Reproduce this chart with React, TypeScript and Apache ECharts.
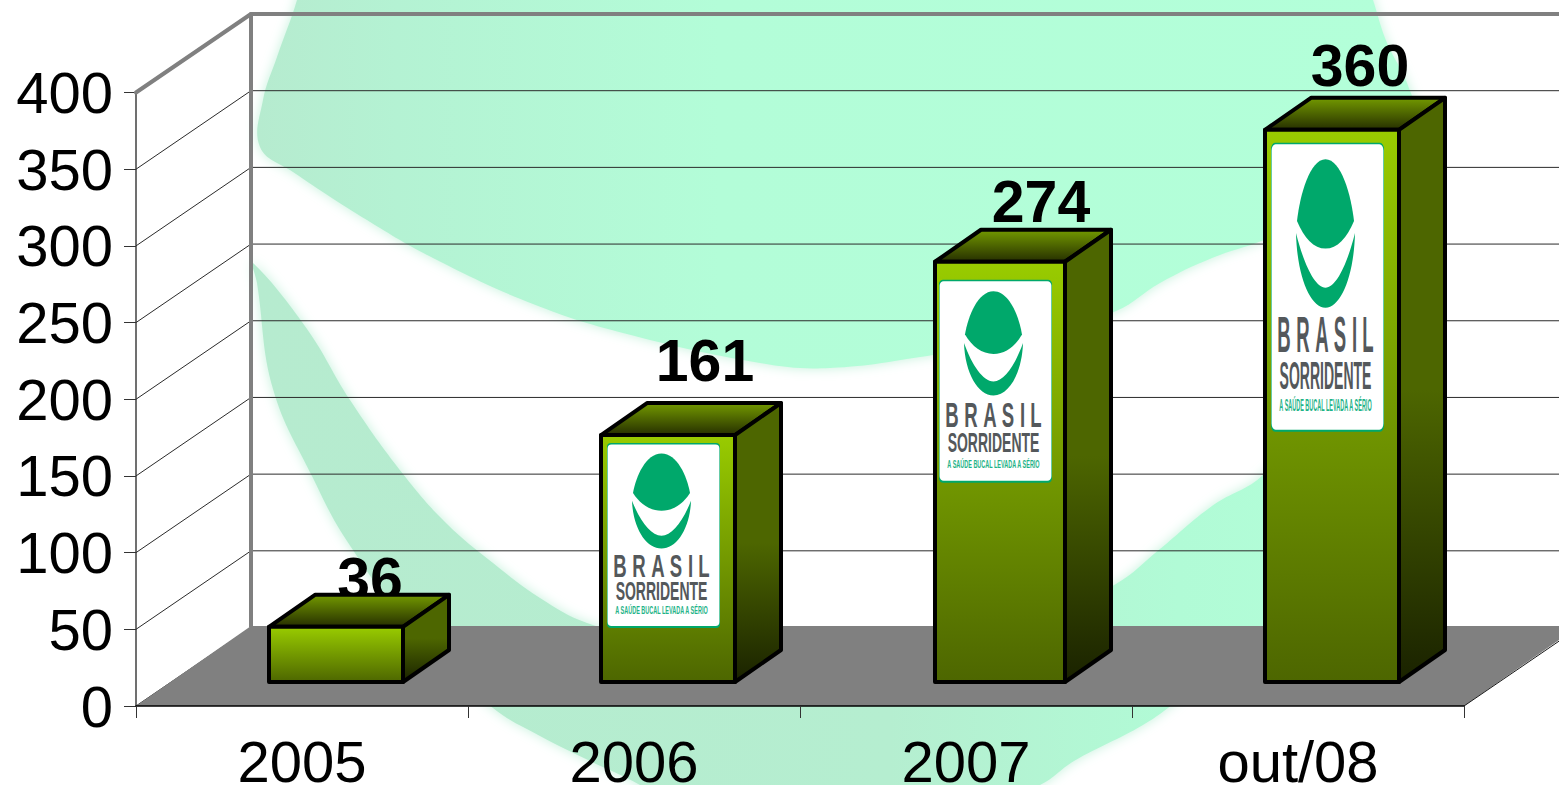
import React, { useEffect, useRef } from "react";
import * as echarts from "echarts";

const categories = ["2005", "2006", "2007", "out/08"];
const values = [36, 161, 274, 360];
const yTicks = [0, 50, 100, 150, 200, 250, 300, 350, 400];
const brasilLetters = ["B", "R", "A", "S", "I", "L"];

const W = 1559;
const H = 785;
const FONT = '"Liberation Sans", Arial, sans-serif';
const DEPTH_X = 115;
const DEPTH_Y = 78.5;
const BAR_SHIFT_X = 34;
const BAR_SHIFT_Y = 24;
const BAR_DEPTH_X = 46;
const BAR_DEPTH_Y = 32;
const barWidths = [134, 134, 130, 134];
const labelOffsets = [[34, -48], [37, -74], [41, -60], [28, -64]];
const logoFrames = [null, { dx: 6, dy: 8, h: 185 }, { dx: 4, dy: 18, h: 203 }, { dx: 6, dy: 13, h: 289 }];
const letterCentres = [13, 32, 51, 69, 83.5, 97];

const HEAD_PATH = "M54.5 10.5C70 10.5 80 33 83 50C76 61 66 67.7 54.5 67.7C43 67.7 33 61 26 50C29 33 39 10.5 54.5 10.5Z";
const SMILE_PATH = "M25 57.7C33 78 44 92.7 54.5 92.7C65 92.7 76 78 84 57.7C83 85 70 105.5 54.5 105.5C39 105.5 26 85 25 57.7Z";

const headOutline = [
  [306, -40], [1360, -40], [1373, 0], [1387, 43], [1407, 83], [1415, 120], [1390, 170], [1330, 210], [1264, 240],
  [1212, 258], [1160, 283], [1116, 311], [1030, 338], [933, 355], [830, 368], [760, 363], [623, 333], [533, 304],
  [433, 258], [367, 220], [293, 172], [260, 147], [263, 100], [277, 57], [297, 0],
];
const smileOutline = [
  [253, 263], [307, 329], [350, 400], [403, 474], [447, 524], [493, 563], [540, 598], [587, 623], [700, 655],
  [830, 665], [935, 640], [1040, 620], [1116, 584], [1160, 549], [1212, 506], [1264, 474], [1340, 380], [1405, 265],
  [1395, 400], [1300, 600], [1178, 700], [1143, 725], [1074, 761], [1040, 785], [1000, 795], [650, 795], [640, 785],
  [590, 761], [540, 736], [493, 708], [420, 640], [347, 541], [313, 478], [273, 389], [257, 283],
];

const vgrad = (stops: string[]) =>
  new echarts.graphic.LinearGradient(0, 0, 0, 1, stops.map((color, i) => ({ offset: i / (stops.length - 1), color })));

function logoChildren(frame: { h: number }) {
  const sy = frame.h / 185;
  const text = (t: string, x: number, y: number, size: number, sx: number, fill: string, weight = "bold") => ({
    type: "text",
    x,
    y,
    scaleX: sx,
    style: { text: t, x: 0, y: 0, fill, fontFamily: FONT, fontSize: size, fontWeight: weight, textAlign: "center", textVerticalAlign: "middle" },
  });
  return {
    type: "group",
    scaleY: sy,
    children: [
      { type: "rect", shape: { x: 0, y: 0, width: 113, height: 185, r: 4 }, style: { fill: "#00a86b" } },
      { type: "rect", shape: { x: 0.6, y: 1.4 / sy, width: 111.8, height: 185 - 3.4 / sy, r: 4 }, style: { fill: "#ffffff" } },
      { type: "path", shape: { pathData: HEAD_PATH }, style: { fill: "#00a86b" } },
      { type: "path", shape: { pathData: SMILE_PATH }, style: { fill: "#00a86b" } },
      ...brasilLetters.map((c, i) => text(c, letterCentres[i], 123, 32, 0.58, "#54585b")),
      text("SORRIDENTE", 54.5, 148.5, 25, 0.56, "#54585b"),
      text("A SAÚDE BUCAL LEVADA A SÉRIO", 54.5, 168, 10, 0.55, "#1fb388"),
    ],
  };
}

function renderFrame(params: any, api: any) {
  const v = api.value(1);
  const y = api.coord([0, v])[1];
  const x0 = params.coordSys.x;
  const x1 = x0 + params.coordSys.width + DEPTH_X;
  const top = v === yTicks[yTicks.length - 1];
  const style = top
    ? { stroke: "#808080", lineWidth: 4, lineCap: "round" }
    : { stroke: "#2b2b2b", lineWidth: 1 };
  return {
    type: "group",
    children: [
      { type: "line", shape: { x1: x0 + DEPTH_X, y1: y - DEPTH_Y, x2: x1, y2: y - DEPTH_Y }, style },
      { type: "line", shape: { x1: x0, y1: y, x2: x0 + DEPTH_X, y2: y - DEPTH_Y }, style },
    ],
  };
}

function renderWall(params: any, api: any) {
  const x = params.coordSys.x + DEPTH_X;
  const y0 = api.coord([0, 0])[1];
  const y1 = api.coord([0, 400])[1];
  return {
    type: "line",
    shape: { x1: x, y1: y1 - DEPTH_Y, x2: x, y2: y0 - DEPTH_Y },
    style: { stroke: "#808080", lineWidth: 4 },
  };
}

function renderFloor(params: any, api: any) {
  const x0 = params.coordSys.x;
  const x1 = x0 + params.coordSys.width;
  const y = api.coord([0, 0])[1];
  return {
    type: "group",
    children: [
      {
        type: "polygon",
        shape: { points: [[x0, y], [x0 + DEPTH_X, y - DEPTH_Y - 1.5], [x1 + DEPTH_X, y - DEPTH_Y - 1.5], [x1, y]] },
        style: { fill: "#808080" },
      },
      { type: "line", shape: { x1, y1: y, x2: x1 + DEPTH_X, y2: y - DEPTH_Y }, style: { stroke: "#1a1a1a", lineWidth: 1 } },
    ],
  };
}

function renderBar(params: any, api: any) {
  const i = params.dataIndex;
  const v = api.value(1);
  const cx = api.coord([i, 0])[0] + BAR_SHIFT_X;
  const bottom = api.coord([i, 0])[1] - BAR_SHIFT_Y;
  const top = api.coord([i, v])[1] - BAR_SHIFT_Y;
  const w = barWidths[i];
  const l = cx - w / 2;
  const r = cx + w / 2;
  const stroke = { stroke: "#000000", lineWidth: 4, lineJoin: "round" };
  const frame = logoFrames[i];
  const children: any[] = [
    {
      type: "text",
      style: {
        text: String(v),
        x: cx + labelOffsets[i][0],
        y: top + labelOffsets[i][1],
        fill: "#000000",
        fontFamily: FONT,
        fontWeight: "bold",
        fontSize: 59,
        textAlign: "center",
        textVerticalAlign: "middle",
      },
    },
    {
      type: "polygon",
      shape: { points: [[l, top], [l + BAR_DEPTH_X, top - BAR_DEPTH_Y], [r + BAR_DEPTH_X, top - BAR_DEPTH_Y], [r, top]] },
      style: { fill: vgrad(["#739900", "#262f00"]), ...stroke },
    },
    {
      type: "polygon",
      shape: { points: [[r, top], [r + BAR_DEPTH_X, top - BAR_DEPTH_Y], [r + BAR_DEPTH_X, bottom - BAR_DEPTH_Y], [r, bottom]] },
      style: { fill: vgrad(["#4d6600", "#4d6600", "#1a2200"]), ...stroke },
    },
    {
      type: "polygon",
      shape: { points: [[l, top], [r, top], [r, bottom], [l, bottom]] },
      style: { fill: vgrad(["#99cc00", "#4d6600"]), ...stroke },
    },
  ];
  if (frame) {
    children.push({ type: "group", x: l + frame.dx, y: top + frame.dy, children: [logoChildren(frame)] });
  }
  return { type: "group", children };
}

export default function App() {
  const ref = useRef<HTMLDivElement>(null);
  useEffect(() => {
    document.body.style.margin = "0";
    const chart = echarts.init(ref.current!, undefined, { renderer: "svg" });
    const xSeries = [0];
    chart.setOption({
      animation: false,
      backgroundColor: "#ffffff",
      textStyle: { fontFamily: FONT },
      grid: { left: 136, right: W - 1464, top: 92.5, bottom: H - 706, outerBoundsMode: "none", containLabel: false },
      graphic: [
        {
          type: "polygon",
          z: -2,
          shape: { points: headOutline, smooth: 0.4 },
          style: {
            fill: { type: "linear", x: 0, y: 0, x2: 1, y2: 0, colorStops: [{ offset: 0, color: "#b6ebcf" }, { offset: 0.12, color: "#b4f2d3" }, { offset: 0.4, color: "#b3fdd8" }, { offset: 1, color: "#b3ffd9" }] },
            shadowBlur: 12,
            shadowColor: "#c4f2dc",
          },
        },
        {
          type: "polygon",
          z: -2,
          shape: { points: smileOutline, smooth: 0.4 },
          style: {
            fill: { type: "linear", x: 0, y: 0, x2: 1, y2: 0, colorStops: [{ offset: 0, color: "#b6ebcf" }, { offset: 0.55, color: "#b5eed0" }, { offset: 0.8, color: "#b1fbd6" }, { offset: 1, color: "#b3ffd9" }] },
            shadowBlur: 12,
            shadowColor: "#c4f2dc",
          },
        },
      ],
      xAxis: {
        type: "category",
        data: categories,
        z: 10,
        axisLine: { lineStyle: { color: "#000000", width: 1.5 } },
        axisTick: { show: true, length: 12, lineStyle: { color: "#333333", width: 1 } },
        axisLabel: { interval: 0, color: "#000000", fontSize: 58, lineHeight: 46, fontFamily: FONT, margin: 32 },
      },
      yAxis: {
        type: "value",
        min: 0,
        max: 400,
        interval: 50,
        z: 1,
        splitLine: { show: false },
        axisLine: { show: true, lineStyle: { color: "#707070", width: 2 } },
        axisTick: { show: true, length: 12, lineStyle: { color: "#333333", width: 1 } },
        axisLabel: { color: "#000000", fontSize: 58, fontFamily: FONT, margin: 23 },
      },
      series: [
        { type: "custom", name: "frame", coordinateSystem: "cartesian2d", z: 2, clip: false, renderItem: renderFrame, encode: { x: 0, y: 1 }, data: yTicks.map((v) => [0, v]) },
        { type: "custom", name: "wall", coordinateSystem: "cartesian2d", z: 3, clip: false, renderItem: renderWall, encode: { x: 0, y: 1 }, data: xSeries.map((x) => [x, 0]) },
        { type: "custom", name: "floor", coordinateSystem: "cartesian2d", z: 4, clip: false, renderItem: renderFloor, encode: { x: 0, y: 1 }, data: xSeries.map((x) => [x, 0]) },
        { type: "custom", name: "bars", coordinateSystem: "cartesian2d", z: 5, clip: false, renderItem: renderBar, encode: { x: 0, y: 1 }, data: values.map((v, i) => [i, v]) },
      ],
    });
    return () => chart.dispose();
  }, []);
  return <div ref={ref} style={{ width: W, height: H, position: "absolute", left: 0, top: 0, overflow: "hidden" }} />;
}
